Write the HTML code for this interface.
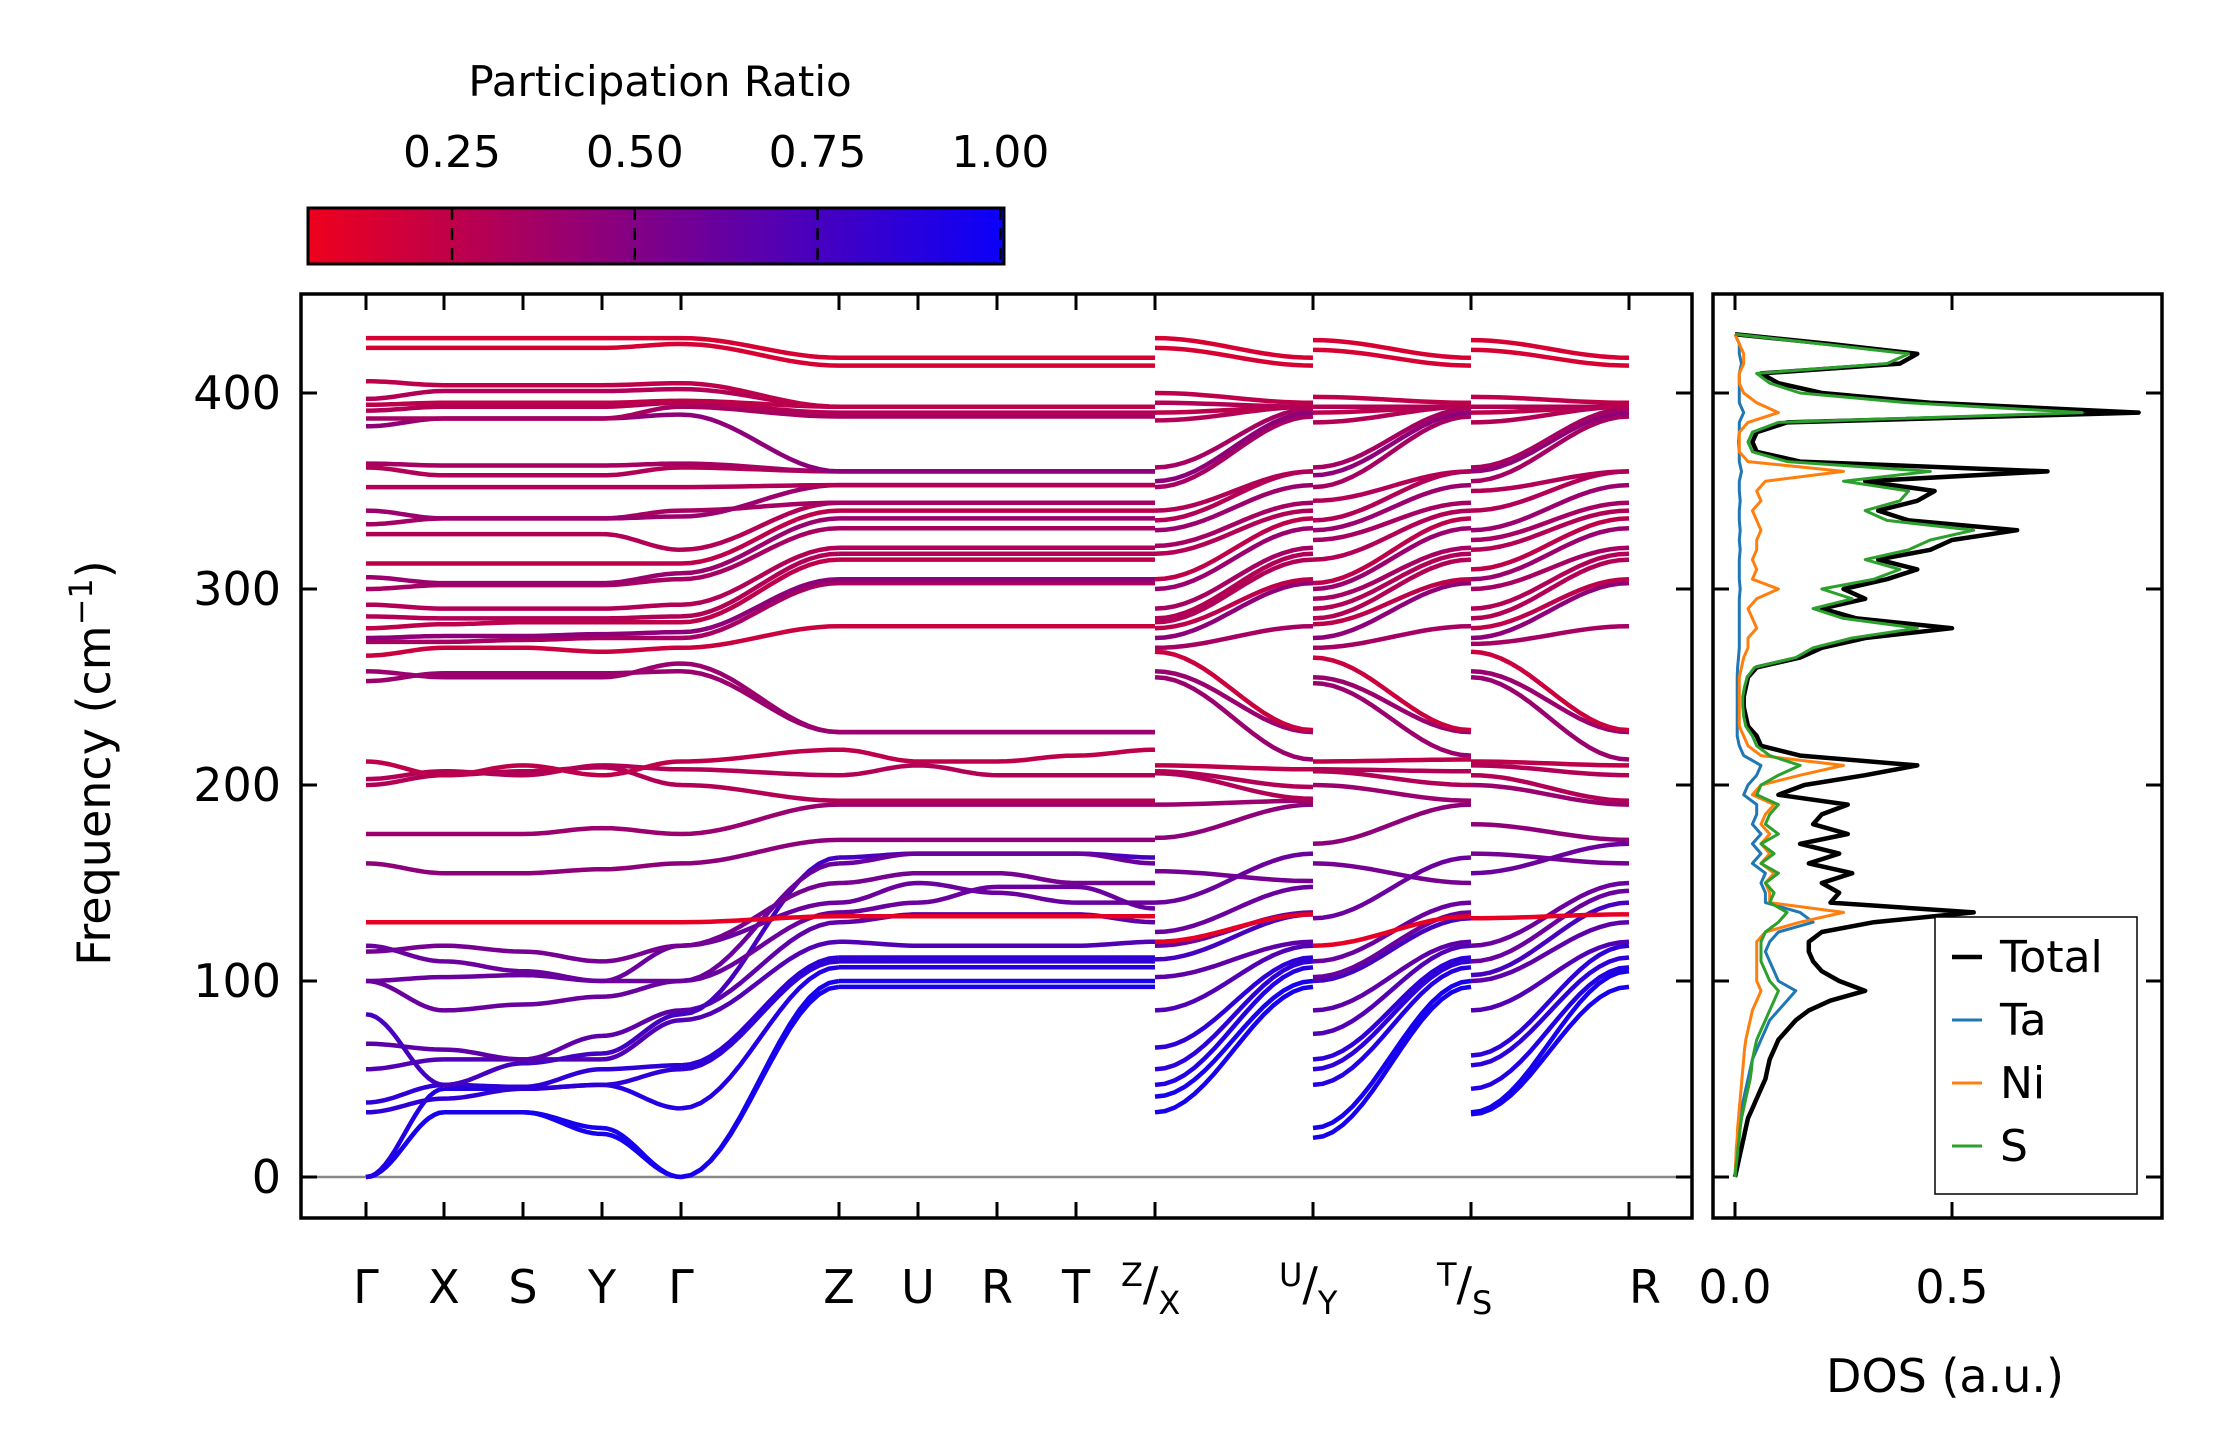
<!DOCTYPE html>
<html><head><meta charset="utf-8"><style>
html,body{margin:0;padding:0;background:#fff;}
svg{display:block;font-family:"DejaVu Sans","Liberation Sans",sans-serif;}
</style></head><body>
<svg id="chart" width="2222" height="1455" viewBox="0 0 2222 1455" xmlns="http://www.w3.org/2000/svg">
<defs>
<linearGradient id="cmap" x1="0" x2="1" y1="0" y2="0">
<stop offset="0" stop-color="rgb(238,0,28)"/><stop offset="0.5" stop-color="rgb(124,0,139)"/><stop offset="1" stop-color="rgb(10,0,250)"/>
</linearGradient>
</defs>
<g>
<text x="660" y="96" font-size="42" text-anchor="middle">Participation Ratio</text>
<rect x="308" y="208" width="696" height="56" fill="url(#cmap)" stroke="#000" stroke-width="3"/>
<g id="cbticks"></g>
</g>
<g id="bands"></g>
<g id="mainaxes"></g>
<g id="dos"></g>
<g id="legend"></g>
</svg>
<script>
const NS="http://www.w3.org/2000/svg";
const kLabels=["Γ","X","S","Y","Γ","Z","U","R","T"];
const cbTicks=[0.25,0.50,0.75,1.00];
const freqTicks=[0,100,200,300,400];
const dosTicks=[0.0,0.5];
const bandMain=[
[0,33,33,22,0,97,97,97,97,97],
[0,33,33,25,0,100,100,100,100,100],
[0,45,45,47,35,107,107,107,107,107],
[33,40,45,47,55,110,110,110,110,110],
[38,47,46,55,57,112,112,112,112,112],
[55,60,60,60,80,120,118,118,118,120],
[68,65,60,72,85,130,134,134,134,130],
[83,47,58,63,83,163,165,165,165,163],
[100,85,88,92,100,135,140,148,148,137],
[100,102,103,100,118,140,150,145,140,140],
[115,118,115,110,118,150,155,155,150,150],
[118,110,105,100,100,160,165,165,165,160],
[130,130,130,130,130,133,133,133,133,133],
[160,155,155,157,160,172,172,172,172,172],
[175,175,175,178,175,190,190,190,190,190],
[200,205,207,209,200,192,192,192,192,192],
[203,207,205,210,208,205,210,205,205,205],
[212,205,210,205,212,218,212,212,215,218],
[253,257,257,257,258,227,227,227,227,227],
[258,255,255,255,262,227,227,227,227,227],
[266,270,270,268,270,281,281,281,281,281],
[273,273,274,275,275,303,303,303,303,303],
[275,276,276,277,278,305,305,305,305,305],
[280,282,283,283,283,315,315,315,315,315],
[286,285,285,285,286,318,318,318,318,318],
[292,290,290,290,292,321,321,321,321,321],
[300,302,302,302,305,331,331,331,331,331],
[306,303,303,303,308,336,336,336,336,336],
[313,313,313,313,313,340,340,340,340,340],
[328,328,328,328,320,344,344,344,344,344],
[333,336,336,336,340,344,344,344,344,344],
[340,336,336,336,337,353,353,353,353,353],
[352,352,352,352,352,353,353,353,353,353],
[362,358,358,358,362,360,360,360,360,360],
[364,363,363,363,364,360,360,360,360,360],
[383,387,387,387,389,360,360,360,360,360],
[387,387,387,387,393,388,388,388,388,388],
[391,393,393,393,395,390,390,390,390,390],
[394,395,395,395,396,393,393,393,393,393],
[397,401,401,401,402,393,393,393,393,393],
[406,404,404,404,405,393,393,393,393,393],
[423,423,423,423,425,414,414,414,414,414],
[428,428,428,428,428,418,418,418,418,418]];
const bandPR=[0.95,0.95,0.9,0.85,0.85,0.7,0.65,0.75,0.6,0.6,0.55,0.6,0.08,0.45,0.4,0.3,0.3,0.25,0.4,0.4,0.2,0.35,0.45,0.25,0.3,0.3,0.35,0.4,0.25,0.3,0.35,0.4,0.3,0.3,0.35,0.45,0.35,0.3,0.25,0.3,0.25,0.15,0.15];
const xuStart=[33,41,47,55,66,85,102,111,118,125,156,140,120,173,190,206,207,210,255,258,268,270,275,280,283,285,290,300,305,318,322,330,335,340,352,355,362,386,390,395,400,423,428];
const xuEnd=[97,100,107,110,112,118,120,134,135,148,151,165,134,190,192,193,199,208,213,227,228,281,303,305,315,318,321,331,336,340,344,353,360,360,388,390,392,393,393,393,395,414,418];
const ytStart=[20,25,47,55,60,73,85,100,102,110,160,132,118,170,200,207,208,212,252,255,265,270,275,282,285,290,295,300,303,315,325,330,335,345,352,358,362,385,390,393,398,422,427];
const ytEnd=[97,100,107,110,112,118,120,132,135,140,150,163,133,190,192,200,207,213,215,227,228,281,303,305,315,318,321,331,336,340,344,353,360,360,388,390,392,393,393,393,395,414,418];
const srStart=[32,33,45,57,62,85,100,103,110,118,165,155,132,180,200,205,210,212,255,258,268,272,275,280,285,290,300,305,310,320,325,330,340,350,355,360,362,385,390,393,398,422,427];
const srEnd=[97,105,107,112,118,120,130,140,146,150,160,170,134,172,190,192,205,210,213,227,228,281,303,305,315,318,321,331,336,340,344,353,360,360,388,390,392,393,393,393,395,414,418];
const dosTotal=[0,0.005,0.01,0.015,0.02,0.025,0.03,0.04,0.05,0.06,0.07,0.075,0.08,0.09,0.1,0.12,0.14,0.17,0.22,0.3,0.24,0.2,0.18,0.17,0.17,0.2,0.32,0.55,0.22,0.24,0.2,0.27,0.17,0.24,0.15,0.26,0.18,0.2,0.26,0.1,0.16,0.3,0.42,0.15,0.06,0.05,0.03,0.025,0.02,0.02,0.025,0.03,0.05,0.15,0.2,0.3,0.5,0.28,0.2,0.3,0.25,0.35,0.42,0.33,0.45,0.5,0.65,0.4,0.33,0.42,0.46,0.3,0.72,0.15,0.05,0.04,0.05,0.12,0.93,0.45,0.2,0.1,0.06,0.38,0.42,0.22,0];
const dosTa=[0,0.002,0.004,0.006,0.008,0.01,0.012,0.015,0.02,0.025,0.03,0.035,0.04,0.05,0.06,0.07,0.08,0.1,0.12,0.14,0.1,0.09,0.08,0.07,0.08,0.1,0.18,0.15,0.07,0.07,0.06,0.07,0.04,0.06,0.04,0.06,0.04,0.05,0.05,0.02,0.03,0.05,0.06,0.02,0.01,0.005,0.005,0.005,0.005,0.005,0.005,0.005,0.006,0.008,0.01,0.01,0.01,0.01,0.01,0.01,0.012,0.01,0.01,0.01,0.012,0.01,0.012,0.01,0.01,0.012,0.01,0.01,0.015,0.01,0.01,0.008,0.01,0.01,0.02,0.01,0.01,0.01,0.01,0.015,0.01,0.01,0];
const dosNi=[0,0.001,0.002,0.003,0.005,0.006,0.008,0.01,0.012,0.014,0.016,0.018,0.02,0.022,0.025,0.03,0.035,0.04,0.05,0.06,0.05,0.05,0.05,0.05,0.05,0.07,0.15,0.25,0.08,0.08,0.07,0.09,0.06,0.08,0.06,0.08,0.06,0.07,0.09,0.04,0.06,0.15,0.25,0.06,0.03,0.02,0.01,0.01,0.01,0.01,0.01,0.01,0.015,0.02,0.03,0.03,0.05,0.04,0.03,0.05,0.1,0.04,0.05,0.04,0.05,0.05,0.06,0.05,0.04,0.06,0.05,0.07,0.25,0.03,0.01,0.01,0.01,0.03,0.1,0.05,0.02,0.01,0.01,0.02,0.02,0.01,0];
const dosS=[0,0.002,0.005,0.007,0.01,0.012,0.015,0.02,0.025,0.03,0.035,0.038,0.04,0.045,0.05,0.06,0.07,0.08,0.09,0.1,0.08,0.07,0.06,0.06,0.06,0.07,0.1,0.12,0.08,0.09,0.07,0.1,0.06,0.09,0.06,0.1,0.07,0.08,0.1,0.05,0.06,0.1,0.15,0.08,0.05,0.04,0.025,0.02,0.018,0.018,0.022,0.028,0.045,0.14,0.18,0.27,0.42,0.25,0.18,0.27,0.2,0.32,0.38,0.3,0.4,0.45,0.55,0.35,0.3,0.38,0.4,0.25,0.45,0.12,0.04,0.03,0.04,0.1,0.8,0.4,0.15,0.08,0.05,0.35,0.4,0.2,0];
const legendNames=["Total","Ta","Ni","S"];

const AX={l:301,r:1692,t:294,b:1218};
const DX={l:1713,r:2162};
const yF=f=>1177-f*1.96;
const xD=d=>1735+d*434;
const kX=[366,444,523,602,681,839,918,997,1076,1155];
const sideX=[[1155,1313],[1313,1471],[1471,1629]];
function col(pr){const t=Math.max(0,Math.min(1,(pr-0.05)/0.95));
 return `rgb(${Math.round(238*(1-t)+10*t)},0,${Math.round(28*(1-t)+250*t)})`;}
function el(tag,attrs,parent){const e=document.createElementNS(NS,tag);for(const k in attrs)e.setAttribute(k,attrs[k]);parent.appendChild(e);return e;}
function seg(x0,x1,v0,v1){let d="";const n=16;for(let i=0;i<=n;i++){const s=i/n;const w=(1-Math.cos(Math.PI*s))/2;
 d+=(i?"L":"M")+(x0+(x1-x0)*s).toFixed(1)+","+yF(v0+(v1-v0)*w).toFixed(1);}return d;}

const cbG=document.getElementById("cbticks");
const cbX=v=>308+(v-0.053)/(1.005-0.053)*696;
cbTicks.forEach(v=>{
 const ln=el("line",{x1:cbX(v),x2:cbX(v),y1:208,y2:264,stroke:"#000","stroke-width":2.5,"stroke-dasharray":"12,8"},cbG);
 
 
 const t=el("text",{x:cbX(v),y:167,"font-size":44,"text-anchor":"middle"},cbG);t.textContent=v.toFixed(2);
 
 
});

const bG=document.getElementById("bands");
const zl=el("line",{x1:AX.l,x2:AX.r,y1:yF(0),y2:yF(0),stroke:"#888","stroke-width":2.5},bG);


const sides=[[xuStart,xuEnd],[ytStart,ytEnd],[srStart,srEnd]];
bandMain.forEach((b,i)=>{
 let d="";
 for(let j=0;j<kX.length-1;j++){d+=seg(kX[j],kX[j+1],b[j],b[j+1]);}
 sides.forEach((s,k)=>{d+=seg(sideX[k][0],sideX[k][1],s[0][i],s[1][i]);});
 const p=el("path",{d:d,fill:"none",stroke:col(bandPR[i]),"stroke-width":4.5,"stroke-linejoin":"round"},bG);
 
 
});

const mA=document.getElementById("mainaxes");
const fr=el("rect",{x:AX.l,y:AX.t,width:AX.r-AX.l,height:AX.b-AX.t,fill:"none",stroke:"#000","stroke-width":3.5},mA);


freqTicks.forEach(f=>{
 const y=yF(f);
 el("line",{x1:AX.l,x2:AX.l+16,y1:y,y2:y,stroke:"#000","stroke-width":3},mA);
 el("line",{x1:AX.r-16,x2:AX.r,y1:y,y2:y,stroke:"#000","stroke-width":3},mA);
 const t=el("text",{x:AX.l-20,y:y+16,"font-size":46,"text-anchor":"end"},mA);t.textContent=f;
 
 
});
kX.concat([1313,1471,1629]).forEach(x=>{
 el("line",{x1:x,x2:x,y1:AX.b,y2:AX.b-16,stroke:"#000","stroke-width":3},mA);
 el("line",{x1:x,x2:x,y1:AX.t,y2:AX.t+16,stroke:"#000","stroke-width":3},mA);
});
kLabels.forEach((l,i)=>{
 const t=el("text",{x:kX[i],y:1303,"font-size":46,"text-anchor":"middle"},mA);t.textContent=l;
 
 
});
[["Z","X",1155],["U","Y",1313],["T","S",1471]].forEach(a=>{
 const t=el("text",{x:a[2]-34,y:1300,"font-size":46},mA);
 t.innerHTML=`<tspan font-size="32" dy="-14">${a[0]}</tspan><tspan dy="14">/</tspan><tspan font-size="32" dy="14">${a[1]}</tspan>`;
 
 
});
const rl=el("text",{x:1645,y:1303,"font-size":46,"text-anchor":"middle"},mA);rl.textContent="R";


const yl=el("text",{x:0,y:0,"font-size":46,"text-anchor":"middle",transform:"translate(110,763) rotate(-90)"},mA);
yl.innerHTML='Frequency (cm<tspan font-size="32" dy="-18">−1</tspan><tspan dy="18">)</tspan>';



const dG=document.getElementById("dos");
const df=el("rect",{x:DX.l,y:AX.t,width:DX.r-DX.l,height:AX.b-AX.t,fill:"none",stroke:"#000","stroke-width":3.5},dG);


freqTicks.forEach(f=>{const y=yF(f);
 el("line",{x1:DX.l,x2:DX.l+16,y1:y,y2:y,stroke:"#000","stroke-width":3},dG);
 el("line",{x1:DX.r-16,x2:DX.r,y1:y,y2:y,stroke:"#000","stroke-width":3},dG);});
dosTicks.forEach(v=>{const x=xD(v);
 el("line",{x1:x,x2:x,y1:AX.b,y2:AX.b-16,stroke:"#000","stroke-width":3},dG);
 el("line",{x1:x,x2:x,y1:AX.t,y2:AX.t+16,stroke:"#000","stroke-width":3},dG);
 const t=el("text",{x:x,y:1303,"font-size":46,"text-anchor":"middle"},dG);t.textContent=v.toFixed(1);
 
 });
const dl=el("text",{x:1945,y:1392,"font-size":46,"text-anchor":"middle"},dG);dl.textContent="DOS (a.u.)";


const series=[[dosTotal,"#000",4.5],[dosTa,"#1f77b4",3],[dosNi,"#ff7f0e",3],[dosS,"#2ca02c",3]];
series.forEach((s,k)=>{
 const d=s[0].map((v,i)=>(i?"L":"M")+xD(v).toFixed(1)+","+yF(i*5).toFixed(1)).join("");
 const p=el("path",{d:d,fill:"none",stroke:s[1],"stroke-width":s[2],"stroke-linejoin":"round"},dG);
 
 
});
const lG=document.getElementById("legend");
el("rect",{x:1935,y:917,width:202,height:277,fill:"#fff",stroke:"#000","stroke-width":1.5},lG);
series.forEach((s,k)=>{const y=957+k*63;
 const ln=el("line",{x1:1952,x2:1982,y1:y,y2:y,stroke:s[1],"stroke-width":s[2]},lG);
 
 
 const t=el("text",{x:2000,y:y+15,"font-size":44},lG);t.textContent=legendNames[k];
 
 });
</script>
</body></html>
